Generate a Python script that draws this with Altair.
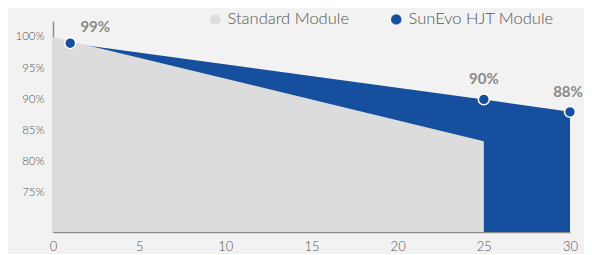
import altair as alt
import pandas as pd

# Data
series_names = ["Standard Module", "SunEvo HJT Module"]
std_years = [0, 25]
std_values = [100.0, 83.3]
hjt_years = [1, 25, 30]
hjt_values = [99.0, 90.0, 88.0]
hjt_labels = ["99%", "90%", "88%"]
y_ticks = [75, 80, 85, 90, 95, 100]
x_ticks = [0, 5, 10, 15, 20, 25, 30]

Y_MIN, Y_MAX = 68.75, 102.56
FONT = "Lato"

std_df = pd.DataFrame({"year": std_years, "value": std_values, "series": series_names[0]})
hjt_df = pd.DataFrame({"year": hjt_years, "value": hjt_values, "series": series_names[1], "label": hjt_labels})

x_enc = alt.X("year:Q", scale=alt.Scale(domain=[0, 30], nice=False, zero=False),
              axis=alt.Axis(values=x_ticks, title=None, ticks=False, grid=False,
                            labelPadding=8, labelFontSize=13, labelColor="#555555",
                            labelFontWeight=300, labelFlush=False,
                            domainColor="#8c8c8c", domainWidth=1.5, labelFont=FONT))
y_enc = alt.Y("value:Q", scale=alt.Scale(domain=[Y_MIN, Y_MAX], nice=False, zero=False),
              axis=alt.Axis(values=y_ticks, title=None, ticks=False, grid=False,
                            labelExpr="datum.value + '%'", labelPadding=9,
                            labelFontSize=11.5, labelColor="#555555", labelFontWeight=300,
                            domainColor="#8c8c8c", domainWidth=1.5, labelFont=FONT))

color_enc = alt.Color("series:N",
                      scale=alt.Scale(domain=series_names, range=["#dcdcdc", "#154f9e"]),
                      legend=alt.Legend(title=None, orient="none", direction="horizontal",
                                        legendX=154, legendY=-10, symbolType="circle",
                                        symbolSize=110, symbolStrokeWidth=0, symbolOpacity=1,
                                        labelFontSize=16.5, labelColor="#555555", labelFont=FONT,
                                        labelFontWeight=300,
                                        labelOffset=4, columnPadding=38, padding=0))

hjt_area = alt.Chart(hjt_df).mark_area(opacity=1).encode(
    x=x_enc, y=y_enc, y2=alt.datum(Y_MIN), color=color_enc)
std_area = alt.Chart(std_df).mark_area(opacity=1).encode(
    x=x_enc, y=y_enc, y2=alt.datum(Y_MIN), color=color_enc)

points = alt.Chart(hjt_df).mark_point(filled=True, size=120, color="#154f9e",
                                      stroke="white", strokeWidth=1.5, opacity=1).encode(
    x="year:Q", y="value:Q")

def label_layer(lbl, dx, dy):
    return alt.Chart(hjt_df).transform_filter(alt.datum.label == lbl).mark_text(
        fontSize=15, fontWeight="bold", color="#8a8a8a", dx=dx, dy=dy, font=FONT
    ).encode(x="year:Q", y="value:Q", text="label:N")

chart = alt.layer(
    hjt_area, std_area, points,
    label_layer("99%", 25, -16), label_layer("90%", 0, -20), label_layer("88%", -2, -20)
).properties(
    width=517, height=211,
    autosize=alt.AutoSizeParams(type="none"),
    padding={"left": 45, "top": 13, "right": 14, "bottom": 22},
    background="#f2f2f2"
).configure_view(stroke=None)

chart.save("out.html", embed_options={"renderer": "svg", "actions": False})
